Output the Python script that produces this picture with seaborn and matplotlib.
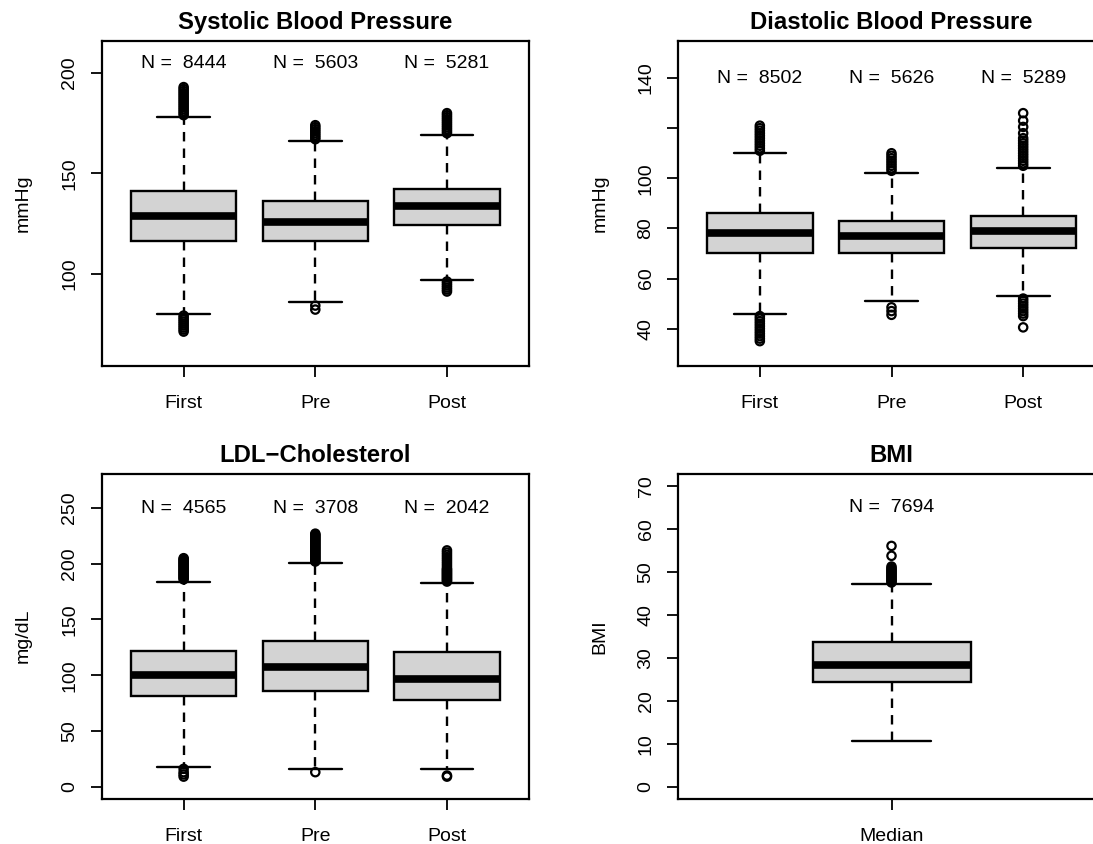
import numpy as np
import pandas as pd
import matplotlib
matplotlib.use("Agg")
import matplotlib.pyplot as plt
import seaborn as sns

sns.set_theme(style="ticks")
plt.rcParams['font.family'] = ['Liberation Sans', 'DejaVu Sans']

# ---------------- data ----------------
groups = ["First", "Pre", "Post"]

# Systolic blood pressure
sbp_n = [8444, 5603, 5281]
sbp_low = [80, 86, 97]
sbp_q1 = [116, 116, 124]
sbp_med = [128.5, 125.5, 133.5]
sbp_q3 = [141, 136, 142]
sbp_high = [178, 166, 169]
sbp_out_first = [179, 180, 181, 182, 183, 184, 185, 186, 187, 188, 189, 190, 191, 192, 193,
                 71, 72, 73, 74, 75, 76, 77, 78, 79]
sbp_out_pre = [167, 168, 169, 170, 171, 172, 173, 174, 82, 84]
sbp_out_post = [170, 171, 172, 173, 174, 175, 176, 177, 178, 179, 180,
                91, 92, 93, 94, 95, 96]

# Diastolic blood pressure
dbp_n = [8502, 5626, 5289]
dbp_low = [46, 51, 53]
dbp_q1 = [70, 70, 72]
dbp_med = [78, 77, 79]
dbp_q3 = [86, 83, 85]
dbp_high = [110, 102, 104]
dbp_out_first = [111, 112, 113, 114, 115, 116, 117, 118, 119, 120, 121,
                 35, 36, 37, 38, 39, 40, 41, 42, 43, 44, 45]
dbp_out_pre = [103, 104, 105, 106, 107, 108, 109, 110, 45.5, 47, 48.5]
dbp_out_post = [126, 123, 120.5, 118, 116, 115, 114, 113, 112, 111, 110, 109, 108, 107, 106, 105,
                52, 51, 50, 49, 48, 47, 46, 45, 40.5]

# LDL cholesterol
ldl_n = [4565, 3708, 2042]
ldl_low = [18, 16, 16]
ldl_q1 = [81, 86, 77.5]
ldl_med = [100, 107.5, 97]
ldl_q3 = [122, 131, 120.5]
ldl_high = [184, 201, 183]
ldl_out_first = [186, 187, 188, 189, 190, 191, 192, 193, 194, 195, 196, 197, 198, 199, 200,
                 201, 202, 203, 204, 205, 9, 11, 13, 16]
ldl_out_pre = [202, 203, 204, 205, 206, 207, 208, 209, 210, 211, 212, 213, 214, 215, 216,
               217, 218, 219, 220, 221, 222, 223, 224, 225, 226, 227, 13]
ldl_out_post = [184, 185, 186, 187, 188, 189, 190, 191, 192, 193, 194, 195, 196, 198, 200,
                202, 204, 206, 208, 210, 212, 9, 10]

# BMI
bmi_groups = ["Median"]
bmi_n = [7694]
bmi_low = [10.7]
bmi_q1 = [24.3]
bmi_med = [28.4]
bmi_q3 = [33.6]
bmi_high = [47.1]
bmi_out = [47.5, 47.8, 48.1, 48.4, 48.7, 49.0, 49.3, 49.6, 49.9, 50.2, 50.5, 50.8, 51.2, 53.7, 56.0]

# ---------------- layout ----------------
W, H = 1093, 844
fig = plt.figure(figsize=(W / 100, H / 100), dpi=100)


def rect(left, top, width, height):
    return [left / W, 1 - (top + height) / H, width / W, height / H]


BOX_FILL = "#D3D3D3"
FS = 14


def panel(ax, cats, lo, q1, med, q3, hi, outliers, ns, ylim, yticks, yticklabels,
          ylabel, title, nlab_y, xlim, width):
    rows = []
    for c, a, b, m, d, e in zip(cats, lo, q1, med, q3, hi):
        for v in (a, b, m, d, e):
            rows.append((c, v))
    df = pd.DataFrame(rows, columns=["group", "value"])
    sns.boxplot(data=df, x="group", y="value", order=cats, ax=ax, width=width,
                whis=(0, 100), showfliers=False, color=BOX_FILL, saturation=1,
                linecolor="black", linewidth=1.7,
                medianprops=dict(linewidth=5.5, color="black", solid_capstyle="butt"),
                whiskerprops=dict(linestyle=(0, (4, 3))))
    orows = []
    for c, vals in zip(cats, outliers):
        for v in vals:
            orows.append((c, v))
    odf = pd.DataFrame(orows, columns=["group", "value"])
    before = len(ax.collections)
    sns.stripplot(data=odf, x="group", y="value", order=cats, ax=ax, jitter=False,
                  size=6, color="black", zorder=4)
    for coll in ax.collections[before:]:
        coll.set_facecolor("none")
        coll.set_edgecolor("black")
        coll.set_linewidth(1.6)

    for i, n in enumerate(ns):
        ax.text(i, nlab_y, f"N =  {n}", ha="center", va="center", fontsize=FS,
                color="black")

    ax.set_xlim(*xlim)
    ax.set_ylim(*ylim)
    ax.set_yticks(yticks)
    ax.set_yticklabels(yticklabels, rotation=90, va="center")
    ax.set_xlabel("")
    ax.set_ylabel(ylabel, fontsize=FS, color="black")
    ax.yaxis.set_label_coords(-0.184, 0.5)
    ax.yaxis.label.set_verticalalignment("center")
    ax.tick_params(axis="both", direction="out", length=8, width=1.3, colors="black",
                   labelsize=FS, bottom=True, left=True)
    ax.tick_params(axis="x", pad=13)
    ax.tick_params(axis="y", pad=9)
    for s in ax.spines.values():
        s.set_visible(True)
        s.set_color("black")
        s.set_linewidth(1.6)
    ax.text(0.5, 1 + 18.5 / 325, title, transform=ax.transAxes, ha="center", va="center",
            fontsize=17.2, fontweight="bold", color="black")


ax1 = fig.add_axes(rect(102, 41, 426.6, 324.7))
ax2 = fig.add_axes(rect(678.2, 41, 426.6, 324.7))
ax3 = fig.add_axes(rect(102, 473.7, 426.6, 325))
ax4 = fig.add_axes(rect(678.2, 473.7, 426.6, 325))

panel(ax1, groups, sbp_low, sbp_q1, sbp_med, sbp_q3, sbp_high,
      [sbp_out_first, sbp_out_pre, sbp_out_post], sbp_n,
      (54, 216), [100, 150, 200], ["100", "150", "200"],
      "mmHg", "Systolic Blood Pressure", 205, (-0.62, 2.62), 0.8)

panel(ax2, groups, dbp_low, dbp_q1, dbp_med, dbp_q3, dbp_high,
      [dbp_out_first, dbp_out_pre, dbp_out_post], dbp_n,
      (25.2, 154.8), [40, 60, 80, 100, 120, 140], ["40", "60", "80", "100", "", "140"],
      "mmHg", "Diastolic Blood Pressure", 140, (-0.62, 2.62), 0.8)

panel(ax3, groups, ldl_low, ldl_q1, ldl_med, ldl_q3, ldl_high,
      [ldl_out_first, ldl_out_pre, ldl_out_post], ldl_n,
      (-10.8, 280.8), [0, 50, 100, 150, 200, 250], ["0", "50", "100", "150", "200", "250"],
      "mg/dL", "LDL\u2212Cholesterol", 250, (-0.62, 2.62), 0.8)

panel(ax4, bmi_groups, bmi_low, bmi_q1, bmi_med, bmi_q3, bmi_high,
      [bmi_out], bmi_n,
      (-2.8, 72.8), [0, 10, 20, 30, 40, 50, 60, 70],
      ["0", "10", "20", "30", "40", "50", "60", "70"],
      "BMI", "BMI", 65, (-0.54, 0.54), 0.4)

fig.savefig("out.png", dpi=100, facecolor="white")
